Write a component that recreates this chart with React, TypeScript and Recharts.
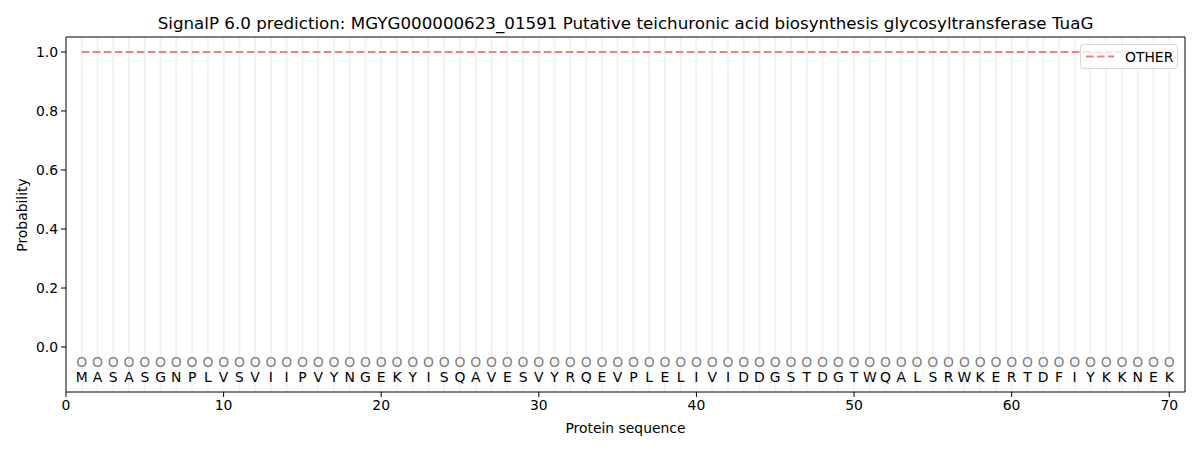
import {
  ComposedChart, Line, Scatter, XAxis, YAxis, ReferenceLine, Label,
} from "recharts";

const TITLE =
  "SignalP 6.0 prediction: MGYG000000623_01591 Putative teichuronic acid biosynthesis glycosyltransferase TuaG";

const residues = [
  "M", "A", "S", "A", "S", "G", "N", "P", "L", "V",
  "S", "V", "I", "I", "P", "V", "Y", "N", "G", "E",
  "K", "Y", "I", "S", "Q", "A", "V", "E", "S", "V",
  "Y", "R", "Q", "E", "V", "P", "L", "E", "L", "I",
  "V", "I", "D", "D", "G", "S", "T", "D", "G", "T",
  "W", "Q", "A", "L", "S", "R", "W", "K", "E", "R",
  "T", "D", "F", "I", "Y", "K", "K", "N", "E", "K",
];

// per-residue probability of class OTHER
const otherProb = residues.map(() => 1.0);
// predicted label per residue
const predLabels = residues.map(() => "O");

const xTicks = [0, 10, 20, 30, 40, 50, 60, 70];
const yTicks = [0, 0.2, 0.4, 0.6, 0.8, 1.0];
const X_DOMAIN = [0, 71];
const Y_DOMAIN = [-0.1525, 1.0508];

const LINE_COLOR = "#f08080";
const FONT = "DejaVu Sans, sans-serif";

const lineData = residues.map((aa, i) => ({ pos: i + 1, other: otherProb[i] }));
const predData = residues.map((aa, i) => ({ pos: i + 1, y: -0.05, label: predLabels[i] }));
const aaData = residues.map((aa, i) => ({ pos: i + 1, y: -0.1, label: aa }));

const TextMark = (color: string) => (props: any) => {
  const { cx, cy, payload } = props;
  return (
    <text x={cx} y={cy} dy="0.36em" textAnchor="middle" fontSize={13.9} fill={color} fontFamily={FONT}>
      {payload.label}
    </text>
  );
};

export default function App() {
  return (
    <div style={{ position: "absolute", left: 0, top: 0, width: 1200, height: 450, background: "#fff" }}>
      <div
        style={{
          position: "absolute", left: 66, width: 1119, top: 13, textAlign: "center",
          fontFamily: FONT, fontSize: 16.7, lineHeight: "20px", color: "#000", whiteSpace: "nowrap",
        }}
      >
        {TITLE}
      </div>
      <ComposedChart
        width={1200}
        height={450}
        data={lineData}
        margin={{ top: 37, right: 15, bottom: 0, left: 0 }}
      >
        {residues.map((aa, i) => (
          <ReferenceLine key={i} x={i + 1} stroke="#f2f2f2" strokeWidth={2} />
        ))}
        <ReferenceLine x={X_DOMAIN[1]} stroke="#000" strokeWidth={1} />
        <ReferenceLine y={Y_DOMAIN[1]} stroke="#000" strokeWidth={1} />
        <XAxis
          dataKey="pos"
          type="number"
          domain={X_DOMAIN}
          ticks={xTicks}
          allowDataOverflow
          height={58}
          tickSize={5}
          tickMargin={3}
          stroke="#000"
          tick={{ fontSize: 13.9, fill: "#000", fontFamily: FONT }}
        >
          <Label
            content={({ viewBox }: any) => (
              <text x={viewBox.x + viewBox.width / 2} y={428} dy="0.36em" textAnchor="middle"
                fontSize={13.9} fontFamily={FONT} fill="#000">
                Protein sequence
              </text>
            )}
          />
        </XAxis>
        <YAxis
          type="number"
          domain={Y_DOMAIN}
          ticks={yTicks}
          allowDataOverflow
          width={66}
          tickSize={5}
          tickMargin={3}
          stroke="#000"
          tickFormatter={(v: number) => v.toFixed(1)}
          tick={{ fontSize: 13.9, fill: "#000", fontFamily: FONT }}
        >
          <Label
            content={() => (
              <text x={22} y={215} dy="0.36em" textAnchor="middle" transform="rotate(-90 22 215)"
                fontSize={13.9} fontFamily={FONT} fill="#000">
                Probability
              </text>
            )}
          />
        </YAxis>
        <Line
          dataKey="other"
          name="OTHER"
          stroke={LINE_COLOR}
          strokeWidth={2}
          strokeDasharray="7.7 3.3"
          dot={false}
          activeDot={false}
          isAnimationActive={false}
        />
        <Scatter data={predData} dataKey="y" shape={TextMark("#808080")} isAnimationActive={false} />
        <Scatter data={aaData} dataKey="y" shape={TextMark("#000")} isAnimationActive={false} />
      </ComposedChart>
      <div
        style={{
          position: "absolute", left: 1080, top: 44, width: 98, height: 25, boxSizing: "border-box",
          border: "1px solid #d9d9d9", borderRadius: 3, background: "rgba(255,255,255,0.8)",
        }}
      >
        <svg width={96} height={23} style={{ position: "absolute", left: 0, top: 0 }}>
          <line x1={5} x2={33} y1={11.5} y2={11.5} stroke={LINE_COLOR} strokeWidth={2} strokeDasharray="7.7 3.3" />
          <text x={44} y={11.5} dy="0.36em" fontSize={13.9} fontFamily={FONT} fill="#000">OTHER</text>
        </svg>
      </div>
    </div>
  );
}
